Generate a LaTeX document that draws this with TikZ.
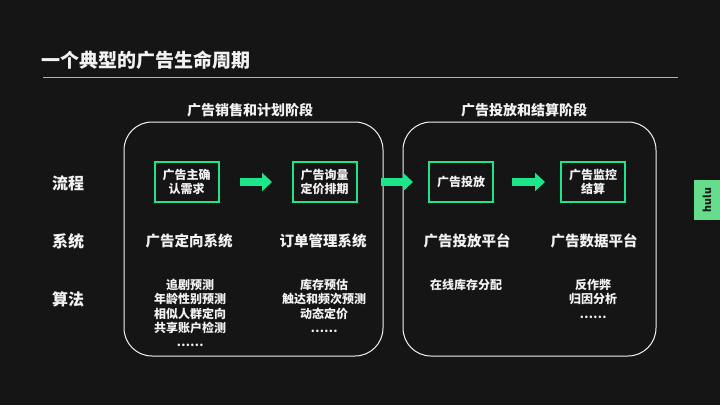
\documentclass[tikz,border=0pt]{standalone}
\usepackage{fontspec}
\setmainfont{Noto Sans CJK SC}
\usetikzlibrary{arrows.meta}
\definecolor{bg}{HTML}{151515}
\definecolor{hgreen}{HTML}{1DE68A}
\definecolor{tabgreen}{HTML}{66DD8C}
\definecolor{txt}{HTML}{F2F2F2}
\newcommand{\fs}[1]{\fontsize{#1}{#1}\selectfont\bfseries}
\tikzset{
 stage/.style={draw=txt, line width=1pt, rounded corners=28pt, minimum width=#1, minimum height=234pt},
 proc/.style={draw=hgreen, line width=2pt, minimum width=64pt, minimum height=40pt, inner sep=0pt, text=txt, align=center, font=\fontsize{12}{13.5}\selectfont\bfseries},
 lbl/.style={text=txt, font=\fs{#1}, inner sep=0pt},
 algo/.style={text=txt, anchor=north, align=center, inner sep=0pt, font=\fontsize{12}{14.3}\selectfont\bfseries},
 arr/.style={hgreen, line width=8pt, -{Triangle[width=18pt,length=10pt]}}
}

\begin{document}
\begin{tikzpicture}[x=1pt,y=-1pt]
\fill[bg] (0,0) rectangle (720,405);
\node[lbl=19, anchor=west] (title) at (41,60) {一个典型的广告生命周期};
\coordinate (r0) at (43,77);
\coordinate (r1) at (678,77);
\draw[tabgreen, line width=1pt] (r0) -- (r1);

\node[stage=259pt] (s1) at (253.5,239) {};
\node[stage=253pt] (s2) at (529.5,239) {};
\node[lbl=14] (h1) at (250,110) {广告销售和计划阶段};
\node[lbl=14] (h2) at (524,110) {广告投放和结算阶段};

\foreach \t/\y in {流程/183, 系统/241, 算法/299}
 \node[lbl=16] (row\y) at (68,\y) {\t};

\node[proc] (b1) at (186.5,182) {广告主确\\认需求};
\node[proc] (b2) at (324.5,182) {广告询量\\定价排期};
\node[proc] (b3) at (461,182) {广告投放};
\node[proc] (b4) at (593,182) {广告监控\\结算};

\draw[arr, shorten <=20pt, shorten >=19.5pt] (b1) -- (b2);
\draw[arr, shorten <=23.5pt, shorten >=15pt] (b2) -- (b3);
\draw[arr, shorten <=18pt, shorten >=15pt] (b3) -- (b4);

\foreach \x/\t in {189/广告定向系统, 323/订单管理系统, 467/广告投放平台, 594/广告数据平台}
 \node[lbl=14.5] (sys\x) at (\x,241) {\t};

\node[algo] (a1) at (190,279) {追剧预测\\年龄性别预测\\相似人群定向\\共享账户检测\\……};
\node[algo] (a2) at (324,279) {库存预估\\触达和频次预测\\动态定价\\……};
\node[algo] (a3) at (466,279) {在线库存分配};
\node[algo] (a4) at (593,279) {反作弊\\归因分析\\……};

\fill[tabgreen] (694,180) rectangle (720,220);
\node[rotate=90, font=\fs{10.5}, text=bg, inner sep=0pt] (tab) at (707,200) {hulu};
\end{tikzpicture}
\end{document}
